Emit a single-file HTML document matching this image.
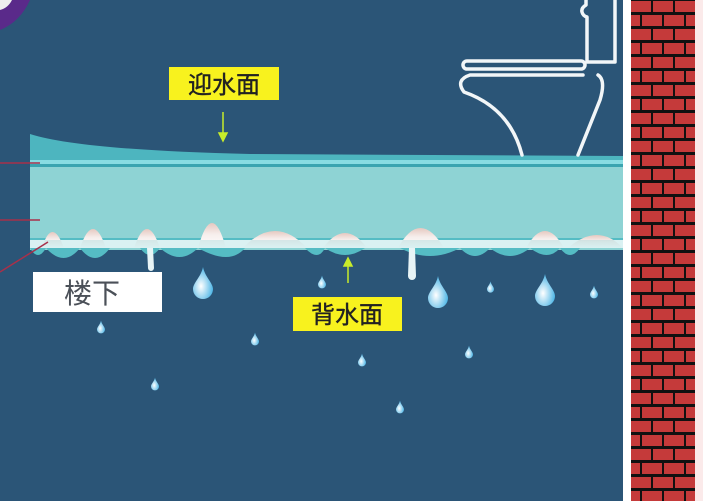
<!DOCTYPE html>
<html><head><meta charset="utf-8"><style>
html,body{margin:0;padding:0;background:#2b5577;}
svg{display:block;}
text{font-family:"Liberation Sans","Noto Sans CJK SC",sans-serif;}
</style></head><body>
<svg width="703" height="501" viewBox="0 0 703 501" xmlns="http://www.w3.org/2000/svg">
<defs>
<pattern id="brick" x="630" y="0" width="44" height="28" patternUnits="userSpaceOnUse">
<rect width="44" height="28" fill="#111"/>
<rect x="1" y="1" width="20" height="11" fill="#c53a3a"/>
<rect x="23" y="1" width="20" height="11" fill="#c53a3a"/>
<rect x="-10" y="15" width="20" height="11" fill="#c53a3a"/>
<rect x="12" y="15" width="20" height="11" fill="#c53a3a"/>
<rect x="34" y="15" width="20" height="11" fill="#c53a3a"/>
</pattern>
<radialGradient id="drop" cx="0.4" cy="0.6" r="0.6">
<stop offset="0" stop-color="#ffffff"/><stop offset="1" stop-color="#4fb6e6"/>
</radialGradient>
<linearGradient id="mound" x1="0" y1="0" x2="0" y2="1">
<stop offset="0" stop-color="#e6c8c0"/><stop offset="0.45" stop-color="#f6eeec"/><stop offset="1" stop-color="#fff"/>
</linearGradient>
<symbol id="d" viewBox="0 0 10 16"><path d="M5 0 C6 5 10 8 10 11 A5 5 0 0 1 0 11 C0 8 4 5 5 0Z" fill="url(#drop)"/></symbol>
</defs>
<rect width="703" height="501" fill="#2b5577"/>
<path d="M0 0 H30 Q20 22 0 30Z" fill="#5a2a8a"/>
<path d="M0 0 H12 Q8 8 0 10Z" fill="#eee"/>
<rect x="623" y="0" width="8" height="501" fill="#fff"/>
<rect x="631" y="0" width="64" height="501" fill="url(#brick)"/>
<rect x="695" y="0" width="8" height="501" fill="#fbeaea"/>
<path d="M30 134 Q80 150 250 154 L623 156 V166 H30Z" fill="#4db5bf"/>
<rect x="30" y="160" width="593" height="4" fill="#88dce2"/>
<rect x="30" y="164" width="593" height="3" fill="#3aa4b0"/>
<rect x="30" y="167" width="593" height="83" fill="#8ed3d4"/>
<path d="M30 248 Q38 262 46 248 Q64 268 80 248 Q95 268 110 248 L140 248 Q150 262 160 248 Q180 266 198 248 Q230 266 245 248 L305 248 Q318 262 325 248 Q345 262 365 248 L400 248 Q430 264 460 248 Q475 264 490 248 Q510 264 530 248 Q548 262 560 248 Q570 262 580 248 L623 248 V238 H30Z" fill="#55bcc4"/>
<rect x="30" y="240" width="593" height="8" fill="#fff"/>
<g fill="url(#mound)">
<path d="M42 248 Q52 216 64 248Z"/><path d="M80 248 Q93 210 106 248Z"/><path d="M134 248 Q147 210 160 248Z"/>
<path d="M198 248 Q212 198 226 248Z"/><path d="M243 248 Q275 214 307 248Z"/><path d="M323 248 Q345 218 367 248Z"/>
<path d="M398 248 Q420 208 444 248Z"/><path d="M526 248 Q545 214 564 248Z"/><path d="M568 248 Q598 222 623 248Z"/>
</g>
<rect x="30" y="240" width="593" height="8" fill="#6dc7cc" opacity="0.25"/>
<path d="M147 248 L153 248 L154 268 A3 3 0 0 1 148 268Z" fill="#e8f4f6"/>
<path d="M409 248 L415 248 L416 276 A4 4 0 0 1 408 276Z" fill="#e8f4f6"/>
<g stroke="#a8304a" stroke-width="1.5"><line x1="0" y1="163" x2="40" y2="163"/><line x1="0" y1="220" x2="40" y2="220"/><line x1="0" y1="272" x2="48" y2="242"/></g>
<g fill="none" stroke="#f2f6f8" stroke-width="3.5" stroke-linecap="round" stroke-linejoin="round">
<path d="M586 0 V5 Q581 8 582 12 Q583 16 587 17 V62 H615 V0"/>
<rect x="463" y="61" width="122" height="8" rx="4"/>
<path d="M583 75 H470 Q455 80 464 92 Q510 108 522 155"/>
<path d="M598 75 Q606 80 600 100 L578 155"/>
</g>
<g stroke="#c8ec2a" stroke-width="1.5" fill="#c8ec2a">
<line x1="223" y1="112" x2="223" y2="137"/><path d="M219 133 L223 141 L227 133Z"/>
<line x1="348" y1="264" x2="348" y2="283"/><path d="M344 266 L348 258 L352 266Z"/>
</g>
<rect x="169" y="67" width="110" height="33" fill="#f8f21e"/>
<text x="224" y="93" font-size="24" text-anchor="middle" fill="#222" stroke="#222" stroke-width="0.4">迎水面</text>
<rect x="293" y="297" width="109" height="34" fill="#f8f21e"/>
<text x="347" y="323" font-size="24" text-anchor="middle" fill="#222" stroke="#222" stroke-width="0.4">背水面</text>
<rect x="33" y="272" width="129" height="40" fill="#fff"/>
<text x="92" y="303" font-size="28" text-anchor="middle" fill="#4b5058">楼下</text>
<use href="#d" x="193" y="267" width="20" height="32"/>
<use href="#d" x="428" y="276" width="20" height="32"/>
<use href="#d" x="535" y="274" width="20" height="32"/>
<use href="#d" x="318" y="274" width="8" height="16"/>
<use href="#d" x="487" y="280" width="7" height="14"/>
<use href="#d" x="590" y="284" width="8" height="16"/>
<use href="#d" x="97" y="319" width="8" height="16"/>
<use href="#d" x="251" y="331" width="8" height="16"/>
<use href="#d" x="358" y="352" width="8" height="16"/>
<use href="#d" x="465" y="344" width="8" height="16"/>
<use href="#d" x="151" y="376" width="8" height="16"/>
<use href="#d" x="396" y="399" width="8" height="16"/>
</svg>
</body></html>
